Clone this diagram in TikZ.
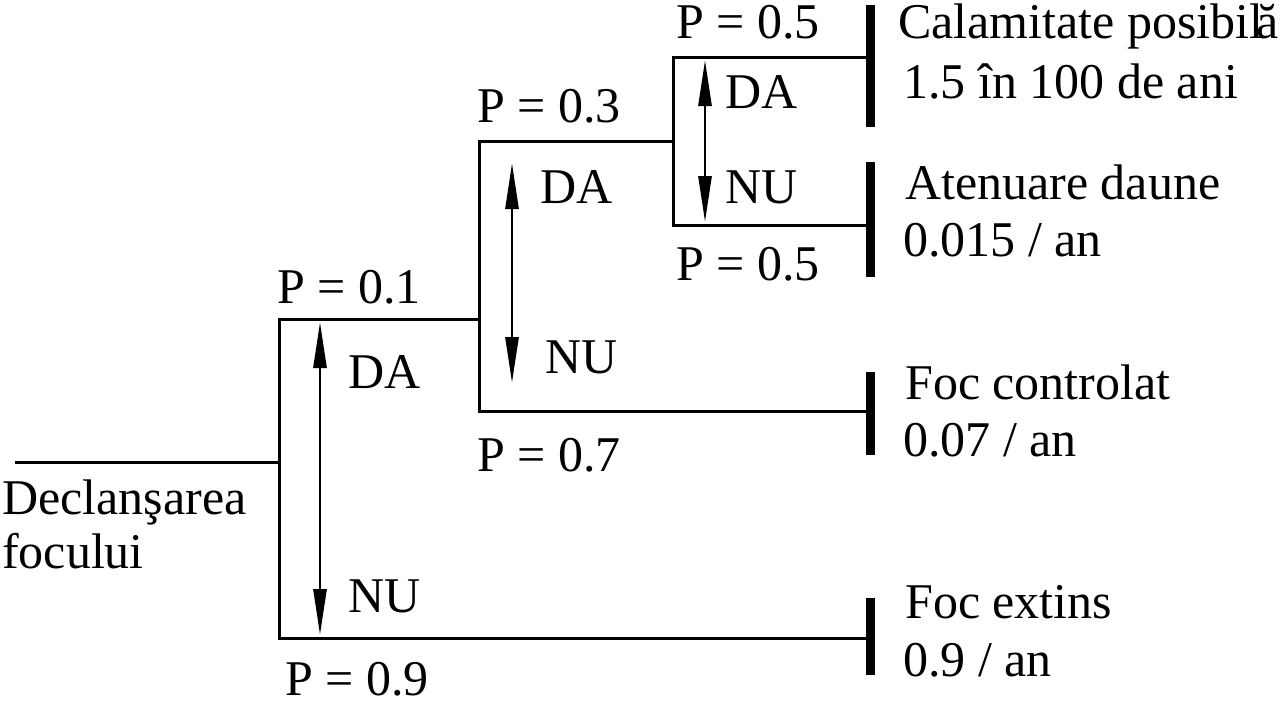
\documentclass[tikz,border=0pt]{standalone}
\usepackage{fontspec}
\setmainfont{Liberation Serif}
\usetikzlibrary{arrows.meta}
\begin{document}
\begin{tikzpicture}[x=1pt,y=-1pt,
  branch/.style={line width=3pt},
  choice/.style={line width=2.8pt,
    {Triangle[length=46pt,width=13pt]}-{Triangle[length=46pt,width=13pt]}},
  endbar/.style={line width=9pt},
  lbl/.style={anchor=base west,inner sep=0pt,font=\fontsize{50}{56}\selectfont}]
\useasboundingbox (0,0) rectangle (1281,707);

% junctions of the event tree
\coordinate (start) at (15,462);
\coordinate (j1)  at (279,462);
\coordinate (j1t) at (279,319);
\coordinate (j1b) at (279,638);
\coordinate (j2)  at (479,319);
\coordinate (j2t) at (479,141);
\coordinate (j2b) at (479,411);
\coordinate (j3)  at (673,141);
\coordinate (j3t) at (673,57);
\coordinate (j3b) at (673,225);
\coordinate (e1) at (870,57);
\coordinate (e2) at (870,225);
\coordinate (e3) at (870,411);
\coordinate (e4) at (870,638);

% outcome bars
\coordinate (b1t) at (870,5);   \coordinate (b1b) at (870,127);
\coordinate (b2t) at (870,162); \coordinate (b2b) at (870,277);
\coordinate (b3t) at (870,372); \coordinate (b3b) at (870,455);
\coordinate (b4t) at (870,598); \coordinate (b4b) at (870,675);

% choice arrows
\coordinate (a1t) at (320,322); \coordinate (a1b) at (320,635);
\coordinate (a2t) at (512,163); \coordinate (a2b) at (512,383);
\coordinate (a3t) at (705,60);  \coordinate (a3b) at (705,222);

% branches
\draw[branch] (start) -- (j1);
\draw[branch] (j2) -- (j1t) -- (j1b) -- (e4);
\draw[branch] (j3) -- (j2t) -- (j2b) -- (e3);
\draw[branch] (e1) -- (j3t) -- (j3b) -- (e2);

\draw[endbar] (b1t) -- (b1b);
\draw[endbar] (b2t) -- (b2b);
\draw[endbar] (b3t) -- (b3b);
\draw[endbar] (b4t) -- (b4b);

\draw[choice] (a1t) -- (a1b);
\draw[choice] (a2t) -- (a2b);
\draw[choice] (a3t) -- (a3b);

% probabilities and answers
\node[lbl] (p1)  at (277,303) {P = 0.1};
\node[lbl,text depth=0pt] (p9)  at (285,695) {P = 0.9};
\node[lbl] (p3)  at (477,122) {P = 0.3};
\node[lbl] (p7)  at (477,471) {P = 0.7};
\node[lbl] (p5a) at (676,38)  {P = 0.5};
\node[lbl] (p5b) at (676,280) {P = 0.5};

\node[lbl] (da1) at (348,388) {DA};
\node[lbl] (nu1) at (348,612) {NU};
\node[lbl] (da2) at (540,203) {DA};
\node[lbl] (nu2) at (545,373) {NU};
\node[lbl] (da3) at (725,108) {DA};
\node[lbl] (nu3) at (725,203) {NU};

% initiating event
\node[lbl] (ev1) at (2,514) {Declanşarea};
\node[lbl] (ev2) at (2,568) {focului};

% outcomes
\node[lbl] (o1a) at (898,38)  {Calamitate posibil\kern-7ptă};
\node[lbl] (o1b) at (903,98)  {1.5 în 100 de ani};
\node[lbl] (o2a) at (905,199) {Atenuare daune};
\node[lbl] (o2b) at (903,256) {0.015 / an};
\node[lbl] (o3a) at (905,399) {Foc controlat};
\node[lbl] (o3b) at (903,456) {0.07 / an};
\node[lbl] (o4a) at (905,618) {Foc extins};
\node[lbl] (o4b) at (903,676) {0.9 / an};
\end{tikzpicture}
\end{document}
